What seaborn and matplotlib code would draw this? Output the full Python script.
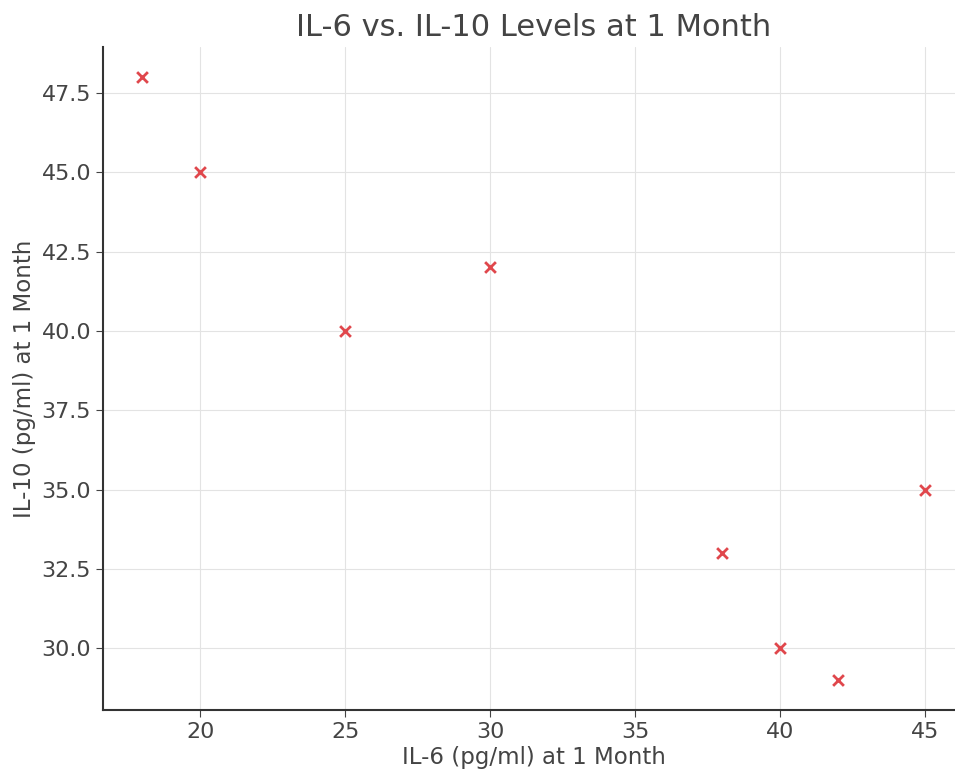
import matplotlib
matplotlib.use("Agg")
import matplotlib.pyplot as plt
import seaborn as sns
import pandas as pd

il6 = [18, 20, 25, 30, 38, 40, 42, 45]
il10 = [48, 45, 40, 42, 33, 30, 29, 35]

df = pd.DataFrame({"IL-6": il6, "IL-10": il10})

sns.set_style("whitegrid", {"grid.color": "#e3e3e3", "axes.edgecolor": "#333333"})
plt.rcParams['font.family'] = ['DejaVu Sans']
text_color = "#444444"

fig = plt.figure(figsize=(9.55, 7.73), dpi=100)
ax = fig.add_axes([103 / 955, 63 / 773, 861 / 955, 663 / 773])
sns.scatterplot(data=df, x="IL-6", y="IL-10", marker="x", color="#e0474c",
                s=60, linewidth=2, ax=ax)

ax.set_title("IL-6 vs. IL-10 Levels at 1 Month", fontsize=22, color=text_color, pad=8)
ax.set_xlabel("IL-6 (pg/ml) at 1 Month", fontsize=16.5, color=text_color, labelpad=3)
ax.set_ylabel("IL-10 (pg/ml) at 1 Month", fontsize=16.5, color=text_color, labelpad=4)
ax.tick_params(axis="both", labelsize=16, colors=text_color, length=5, bottom=True, left=True)
ax.set_xticks([20, 25, 30, 35, 40, 45])
ax.set_yticks([30, 32.5, 35, 37.5, 40, 42.5, 45, 47.5])
ax.set_yticklabels(["30.0", "32.5", "35.0", "37.5", "40.0", "42.5", "45.0", "47.5"])
ax.grid(True, linewidth=0.8)
for side in ["top", "right"]:
    ax.spines[side].set_visible(False)
for side in ["left", "bottom"]:
    ax.spines[side].set_linewidth(1.5)

fig.savefig("out.png", dpi=100)
